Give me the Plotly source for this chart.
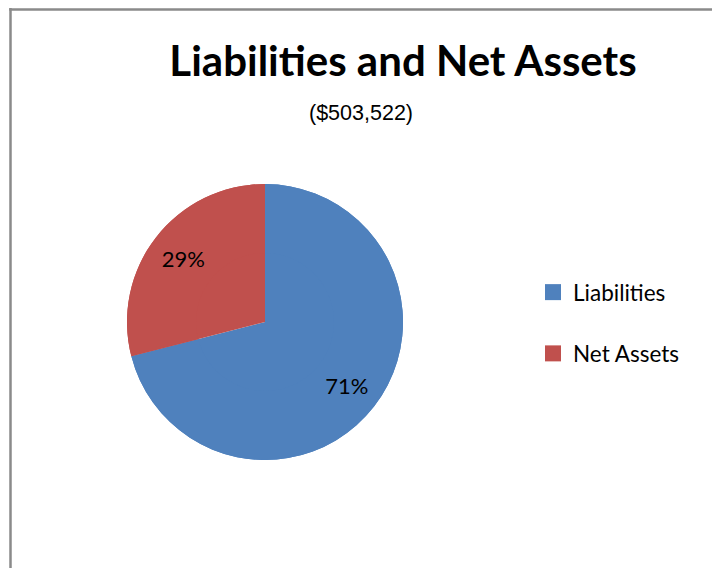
import plotly.graph_objects as go

labels = ["Liabilities", "Net Assets"]
shares = [71, 29]
colors = ["#4F81BD", "#C0504D"]
title_text = "Liabilities and Net Assets"
subtitle_text = "($503,522)"

W, H = 712, 568

def px_x(x):
    return x / W

def px_y(y):
    return 1 - y / H

cx, cy, r = 265, 322, 138
dom = dict(x=[px_x(cx - r), px_x(cx + r)], y=[px_y(cy + r), px_y(cy - r)])

fig = go.Figure()
# full pie (slices)
fig.add_trace(go.Pie(
    labels=labels, values=shares,
    marker=dict(colors=colors, line=dict(width=0)),
    sort=False, direction="clockwise", rotation=0,
    textinfo="none", showlegend=False, domain=dom,
    hoverinfo="label+value+percent",
))
# ring overlay carrying the percentage labels further out
fig.add_trace(go.Pie(
    labels=labels, values=shares,
    marker=dict(colors=colors, line=dict(width=0)),
    sort=False, direction="clockwise", rotation=0, hole=0.5,
    textinfo="percent", textposition="inside",
    insidetextorientation="horizontal",
    textfont=dict(family="Lato", size=22, color="black"),
    showlegend=False, domain=dom,
    hoverinfo="label+value+percent",
))
# legend entries
for lab, col in zip(labels, colors):
    fig.add_trace(go.Scatter(
        x=[None], y=[None], mode="markers", name=lab, legendgroup=lab,
        marker=dict(symbol="square", size=16, color=col),
        showlegend=True, hoverinfo="skip",
    ))

fig.update_layout(
    width=W, height=H,
    margin=dict(l=0, r=0, t=0, b=0),
    paper_bgcolor="white",
    plot_bgcolor="white",
    xaxis=dict(visible=False),
    yaxis=dict(visible=False),
    title=dict(text="<b>" + title_text + "</b>", x=px_x(403), y=px_y(61),
               xanchor="center", yanchor="middle",
               font=dict(family="Lato", size=42, color="black")),
    annotations=[dict(text=subtitle_text, x=px_x(361), y=px_y(113), xref="paper", yref="paper",
                      showarrow=False, xanchor="center", yanchor="middle",
                      font=dict(family="Liberation Sans", size=21.5, color="black"))],
    legend=dict(x=px_x(533), y=px_y(271), xanchor="left", yanchor="top",
                font=dict(family="Lato", size=22.5, color="black"),
                traceorder="grouped", tracegroupgap=29, bgcolor="rgba(0,0,0,0)"),
    shapes=[
        dict(type="line", xref="paper", yref="paper", x0=px_x(10.5), x1=px_x(10.5), y0=-0.05, y1=px_y(8),
             line=dict(color="#8a8a8a", width=2.5)),
        dict(type="line", xref="paper", yref="paper", x0=px_x(9.2), x1=1.05, y0=px_y(9.5), y1=px_y(9.5),
             line=dict(color="#8a8a8a", width=2.5)),
    ],
)

fig.write_html(
    "out.html",
    config={"displayModeBar": False},
    post_script="document.body.style.margin='0';document.body.style.overflow='hidden';",
)
